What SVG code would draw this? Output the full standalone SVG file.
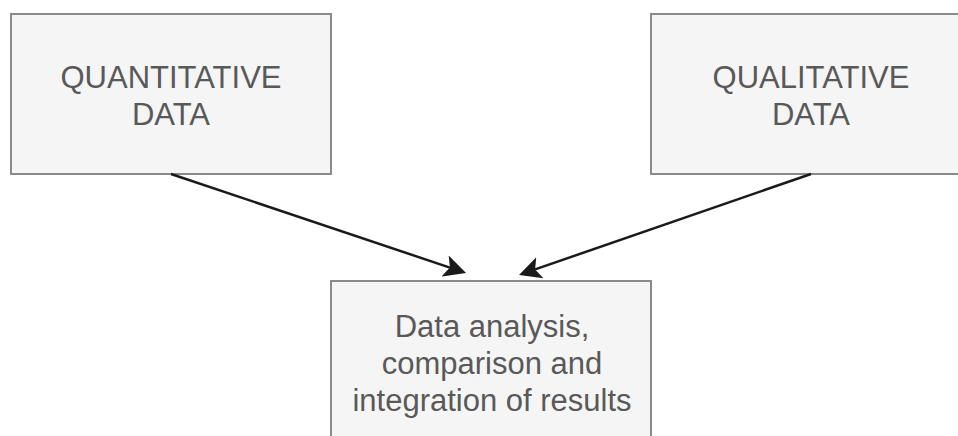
<svg xmlns="http://www.w3.org/2000/svg" width="958" height="436" viewBox="0 0 958 436">
<style>
.box{fill:#f5f5f5;stroke:#8a8a8a;stroke-width:2}
.lbl{font-family:"Liberation Sans",Arial,sans-serif;font-size:31px;fill:#595959;text-anchor:middle}
.edge{fill:none;stroke:#1a1a1a;stroke-width:2.5}
</style>
<defs>
<marker id="arr" markerUnits="userSpaceOnUse" viewBox="0 -12 24 24" refX="5" refY="0" markerWidth="24" markerHeight="24" orient="auto">
<path d="M0,-11 L22,0 L0,11 L5,0 Z" fill="#1a1a1a"/>
</marker>
</defs>
<rect width="958" height="436" fill="#ffffff"/>
<g id="quantitative">
<rect class="box" x="11" y="14" width="320" height="160"/>
<text class="lbl" x="171" y="88">QUANTITATIVE</text>
<text class="lbl" x="171" y="125">DATA</text>
</g>
<g id="qualitative">
<rect class="box" x="651" y="14" width="320" height="160"/>
<text class="lbl" x="811" y="88">QUALITATIVE</text>
<text class="lbl" x="811" y="125">DATA</text>
</g>
<g id="analysis">
<rect class="box" x="331" y="281" width="320" height="160"/>
<text class="lbl" x="492" y="337">Data analysis,</text>
<text class="lbl" x="492" y="374">comparison and</text>
<text class="lbl" x="492" y="411">integration of results</text>
</g>
<g id="connectors">
<path class="edge" d="M171,174 L449.9,267.6" marker-end="url(#arr)"/>
<path class="edge" d="M811,174 L535.1,269.4" marker-end="url(#arr)"/>
</g>
</svg>
